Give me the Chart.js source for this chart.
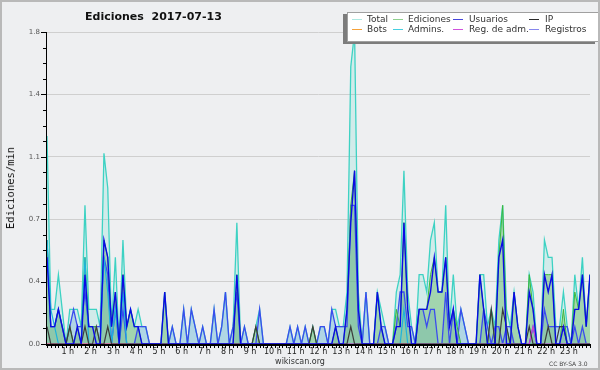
<!DOCTYPE html>
<html>
<head>
<meta charset="utf-8">
<script src="https://cdn.jsdelivr.net/npm/chart.js@4.4.0/dist/chart.umd.min.js"></script>
<style>
  body { margin: 0; }
  #wrap { position: relative; width: 600px; height: 370px; background: #eeeff1; overflow: hidden; font-family: "DejaVu Sans", sans-serif; }
  #frame { position: absolute; left: 0; top: 0; width: 600px; height: 370px; box-sizing: border-box; border: 2px solid #b9b9b9; pointer-events: none; }
  .txt { position: absolute; white-space: pre; }
  #legend { position: absolute; left: 347px; top: 12px; width: 250px; height: 28px; background: #fff; border: 1px solid #a0a0a0; box-shadow: -4px 2px 0 #7c7c7c; }
  .lg-line { position: absolute; width: 10px; height: 1px; }
  .lg-txt { position: absolute; font-size: 9px; color: #333; line-height: 10px; white-space: pre; }
</style>
</head>
<body>
<div id="wrap">
  <canvas id="chart" width="600" height="370"></canvas>
  <div class="txt" style="left:85px; top:10px; font-weight:bold; font-size:11px; color:#111;">Ediciones  2017-07-13</div>
  <div class="txt" style="left:10px; top:188px; transform:translate(-50%,-50%) rotate(-90deg); font-family:'DejaVu Sans Mono'; font-size:10.5px; color:#111;">Ediciones/min</div>
  <div class="txt" style="left:300px; top:361px; transform:translate(-50%,-50%); font-size:8px; color:#333;">wikiscan.org</div>
  <div class="txt" style="left:549px; top:363px; transform:translate(0,-50%); font-size:6px; color:#444;">CC BY-SA 3.0</div>
  <div id="legend"></div>
  <div id="frame"></div>
</div>
<script>
// edits per minute, one value per 10 minutes (6 per hour, 0h..23h50)
const total = [
  1.2,0.2,0.2,0.4,0.2,0.0,  0.2,0.2,0.2,0.1,0.8,0.2,  0.2,0.2,0.1,1.1,0.9,0.1,
  0.5,0.0,0.6,0.1,0.2,0.1,  0.2,0.1,0.1,0.0,0.0,0.0,  0.0,0.3,0.0,0.1,0.0,0.0,
  0.2,0.0,0.2,0.1,0.0,0.1,  0.0,0.0,0.2,0.0,0.1,0.3,  0.0,0.1,0.7,0.0,0.1,0.0,
  0.0,0.1,0.2,0.0,0.0,0.0,  0.0,0.0,0.0,0.0,0.1,0.0,  0.1,0.0,0.1,0.0,0.1,0.0,
  0.1,0.1,0.0,0.2,0.2,0.1,  0.1,0.3,1.6,1.8,0.3,0.0,  0.3,0.0,0.0,0.3,0.2,0.1,
  0.0,0.0,0.3,0.4,1.0,0.3,  0.1,0.0,0.4,0.4,0.3,0.6,  0.7,0.3,0.3,0.8,0.1,0.4,
  0.1,0.2,0.1,0.0,0.0,0.0,  0.4,0.4,0.1,0.2,0.1,0.6,  0.8,0.2,0.1,0.3,0.1,0.0,
  0.0,0.4,0.3,0.0,0.0,0.6,  0.5,0.5,0.1,0.1,0.3,0.1,  0.0,0.4,0.2,0.5,0.1,0.4
];
const ediciones = [
  0.6,0.1,0.1,0.2,0.1,0.0,  0.1,0.0,0.1,0.0,0.5,0.1,  0.1,0.1,0.0,0.6,0.5,0.1,
  0.3,0.0,0.4,0.1,0.2,0.1,  0.1,0.0,0.0,0.0,0.0,0.0,  0.0,0.3,0.0,0.0,0.0,0.0,
  0.0,0.0,0.0,0.0,0.0,0.0,  0.0,0.0,0.0,0.0,0.0,0.0,  0.0,0.0,0.4,0.0,0.0,0.0,
  0.0,0.1,0.0,0.0,0.0,0.0,  0.0,0.0,0.0,0.0,0.0,0.0,  0.0,0.0,0.0,0.0,0.1,0.0,
  0.0,0.0,0.0,0.0,0.1,0.0,  0.0,0.2,0.8,1.0,0.2,0.0,  0.0,0.0,0.0,0.3,0.1,0.0,
  0.0,0.0,0.2,0.1,0.7,0.2,  0.0,0.0,0.2,0.2,0.2,0.4,  0.5,0.3,0.3,0.5,0.1,0.2,
  0.1,0.0,0.0,0.0,0.0,0.0,  0.4,0.2,0.0,0.2,0.0,0.5,  0.8,0.1,0.0,0.3,0.1,0.0,
  0.0,0.4,0.2,0.0,0.0,0.4,  0.4,0.4,0.0,0.0,0.2,0.0,  0.0,0.3,0.2,0.4,0.1,0.4
];
const usuarios = [
  0.5,0.1,0.1,0.2,0.1,0.0,  0.0,0.0,0.1,0.0,0.4,0.1,  0.1,0.0,0.0,0.6,0.5,0.1,
  0.3,0.0,0.4,0.1,0.2,0.1,  0.1,0.0,0.0,0.0,0.0,0.0,  0.0,0.3,0.0,0.0,0.0,0.0,
  0.0,0.0,0.0,0.0,0.0,0.0,  0.0,0.0,0.0,0.0,0.0,0.0,  0.0,0.0,0.4,0.0,0.0,0.0,
  0.0,0.0,0.0,0.0,0.0,0.0,  0.0,0.0,0.0,0.0,0.0,0.0,  0.0,0.0,0.0,0.0,0.0,0.0,
  0.0,0.0,0.0,0.0,0.1,0.0,  0.0,0.2,0.7,1.0,0.2,0.0,  0.0,0.0,0.0,0.3,0.1,0.0,
  0.0,0.0,0.1,0.1,0.7,0.2,  0.0,0.0,0.2,0.2,0.2,0.3,  0.5,0.3,0.3,0.5,0.1,0.2,
  0.0,0.0,0.0,0.0,0.0,0.0,  0.4,0.2,0.0,0.0,0.0,0.5,  0.6,0.0,0.0,0.3,0.1,0.0,
  0.0,0.3,0.2,0.0,0.0,0.4,  0.3,0.4,0.0,0.0,0.1,0.0,  0.0,0.2,0.2,0.4,0.1,0.4
];
const ip = [
  0.1,0.0,0.0,0.0,0.0,0.0,  0.1,0.0,0.0,0.0,0.1,0.0,  0.0,0.1,0.0,0.0,0.1,0.0,
  0.0,0.0,0.0,0.0,0.0,0.0,  0.0,0.0,0.0,0.0,0.0,0.0,  0.0,0.0,0.0,0.0,0.0,0.0,
  0.0,0.0,0.0,0.0,0.0,0.0,  0.0,0.0,0.0,0.0,0.0,0.0,  0.0,0.0,0.0,0.0,0.0,0.0,
  0.0,0.1,0.0,0.0,0.0,0.0,  0.0,0.0,0.0,0.0,0.0,0.0,  0.0,0.0,0.0,0.0,0.1,0.0,
  0.0,0.0,0.0,0.0,0.0,0.0,  0.0,0.0,0.1,0.0,0.0,0.0,  0.0,0.0,0.0,0.0,0.0,0.0,
  0.0,0.0,0.0,0.0,0.0,0.0,  0.0,0.0,0.0,0.0,0.0,0.0,  0.0,0.0,0.0,0.0,0.0,0.0,
  0.0,0.0,0.0,0.0,0.0,0.0,  0.0,0.0,0.0,0.2,0.0,0.0,  0.2,0.1,0.0,0.0,0.0,0.0,
  0.0,0.1,0.0,0.0,0.0,0.0,  0.1,0.0,0.0,0.1,0.1,0.0,  0.0,0.0,0.0,0.0,0.0,0.0
];
const registros = [
  0.6,0.1,0.1,0.2,0.1,0.0,  0.1,0.2,0.1,0.1,0.3,0.1,  0.1,0.1,0.1,0.5,0.4,0.0,
  0.2,0.0,0.2,0.0,0.0,0.0,  0.1,0.1,0.1,0.0,0.0,0.0,  0.0,0.0,0.0,0.1,0.0,0.0,
  0.2,0.0,0.2,0.1,0.0,0.1,  0.0,0.0,0.2,0.0,0.1,0.3,  0.0,0.1,0.3,0.0,0.1,0.0,
  0.0,0.0,0.2,0.0,0.0,0.0,  0.0,0.0,0.0,0.0,0.1,0.0,  0.1,0.0,0.1,0.0,0.0,0.0,
  0.1,0.1,0.0,0.2,0.1,0.1,  0.1,0.1,0.8,0.8,0.1,0.0,  0.3,0.0,0.0,0.0,0.1,0.1,
  0.0,0.0,0.1,0.3,0.3,0.1,  0.1,0.0,0.2,0.2,0.1,0.2,  0.2,0.0,0.0,0.3,0.0,0.2,
  0.0,0.2,0.1,0.0,0.0,0.0,  0.0,0.2,0.1,0.0,0.1,0.1,  0.0,0.1,0.1,0.0,0.0,0.0,
  0.0,0.0,0.1,0.0,0.0,0.2,  0.1,0.1,0.1,0.1,0.1,0.1,  0.0,0.1,0.0,0.1,0.0,0.0
];
const admins = [
  0.6,0.2,0.1,0.0,0.0,0.0,  0.0,0.0,0.0,0.0,0.5,0.0,  0.0,0.0,0.0,0.5,0.3,0.0,
  0.2,0.0,0.3,0.0,0.0,0.0,  0.0,0.0,0.0,0.0,0.0,0.0,  0.0,0.0,0.0,0.0,0.0,0.0,
  0.0,0.0,0.0,0.0,0.0,0.0,  0.0,0.0,0.0,0.0,0.0,0.0,  0.0,0.0,0.0,0.0,0.0,0.0,
  0.0,0.0,0.0,0.0,0.0,0.0,  0.0,0.0,0.0,0.0,0.0,0.0,  0.0,0.0,0.0,0.0,0.0,0.0,
  0.0,0.0,0.0,0.0,0.0,0.0,  0.0,0.0,0.0,0.0,0.0,0.0,  0.0,0.0,0.0,0.0,0.0,0.0,
  0.0,0.0,0.0,0.0,0.2,0.0,  0.0,0.0,0.0,0.0,0.0,0.0,  0.0,0.0,0.0,0.0,0.0,0.0,
  0.0,0.0,0.0,0.0,0.0,0.0,  0.0,0.0,0.0,0.0,0.0,0.0,  0.0,0.0,0.0,0.0,0.0,0.0,
  0.0,0.0,0.0,0.0,0.0,0.0,  0.0,0.0,0.0,0.0,0.0,0.0,  0.0,0.0,0.0,0.0,0.0,0.0
];
const regAdm = [
  0,0,0,0,0,0, 0,0,0,0,0,0, 0,0,0,0,0,0, 0,0,0,0,0,0, 0,0,0,0,0,0, 0,0,0,0,0,0,
  0,0,0,0,0,0, 0,0,0,0,0,0, 0,0,0,0,0,0, 0,0,0,0,0,0, 0,0,0,0,0,0, 0,0,0,0,0,0,
  0,0,0,0,0,0, 0,0,0,0,0,0, 0,0,0,0,0,0, 0,0,0,0,0,0, 0,0,0,0,0,0, 0,0,0,0,0,0,
  0,0,0,0,0,0, 0,0,0,0,0,0, 0,0,0,0,0,0, 0,0,0.1,0,0,0, 0,0,0,0,0,0, 0,0,0,0,0,0
];
const bots = [
  0,0,0,0,0,0, 0,0,0,0,0,0, 0,0,0,0,0,0, 0,0,0,0,0,0, 0,0,0,0,0,0, 0,0,0,0,0,0,
  0,0,0,0,0,0, 0,0,0,0,0,0, 0,0,0,0,0,0, 0,0,0,0,0,0, 0,0,0,0,0,0, 0,0,0,0,0,0,
  0,0,0,0,0,0, 0,0,0,0,0,0, 0,0,0,0,0,0, 0,0,0,0,0,0, 0,0,0,0,0,0, 0,0,0,0,0,0,
  0,0,0,0,0,0, 0,0,0,0,0,0, 0,0,0,0,0,0, 0,0,0,0,0,0, 0,0,0,0,0,0, 0,0,0,0,0,0
];

const yTicks = [0.0, 0.36, 0.72, 1.08, 1.44, 1.8];

const legendItems = [
  { label: "Total", color: "#ade9e2" },
  { label: "Ediciones", color: "#8fd08f" },
  { label: "Usuarios", color: "#4646dc" },
  { label: "IP", color: "#2a2a2a" },
  { label: "Bots", color: "#f5a23a" },
  { label: "Admins.", color: "#46cfe0" },
  { label: "Reg. de adm.", color: "#d052dc" },
  { label: "Registros", color: "#8686ec" }
];

/* --------------- legend box --------------- */
const legend = document.getElementById("legend");
const colLine = [4, 45, 105, 181];
const colText = [19, 60, 121, 197];
legendItems.forEach((it, k) => {
  const col = k % 4, row = Math.floor(k / 4);
  const line = document.createElement("div");
  line.className = "lg-line";
  line.style.left = colLine[col] + "px";
  line.style.top = (6 + row * 10) + "px";
  line.style.background = it.color;
  legend.appendChild(line);
  const t = document.createElement("div");
  t.className = "lg-txt";
  t.style.left = colText[col] + "px";
  t.style.top = (1 + row * 10) + "px";
  t.textContent = it.label;
  legend.appendChild(t);
});

/* --------------- chart --------------- */
const pts = (arr) => arr.map((v, i) => ({ x: i, y: v }));

const axesPlugin = {
  id: "axesPlugin",
  afterDatasetsDraw(chart) {
    const { ctx, chartArea: a, scales: { x, y } } = chart;
    ctx.save();
    ctx.strokeStyle = "#000";
    ctx.lineWidth = 1;
    ctx.beginPath();
    for (let k = 0; k <= 20; k++) {
      const py = Math.round(y.getPixelForValue(k * 0.09)) + 0.5;
      const len = k % 4 === 0 ? 6 : 4;
      ctx.moveTo(a.left - len, py);
      ctx.lineTo(a.left, py);
    }
    for (let i = 0; i < total.length; i++) {
      const px = Math.round(x.getPixelForValue(i)) + 0.5;
      ctx.moveTo(px, a.bottom);
      ctx.lineTo(px, a.bottom + 4);
    }
    ctx.moveTo(a.left - 0.5, a.top);
    ctx.lineTo(a.left - 0.5, a.bottom + 1);
    ctx.stroke();
    ctx.lineWidth = 2;
    ctx.beginPath();
    ctx.moveTo(a.left - 1, a.bottom + 1);
    ctx.lineTo(a.right, a.bottom + 1);
    ctx.stroke();
    ctx.restore();
  }
};

const line = (label, data, color, width, order, fill) => ({
  label,
  data: pts(data),
  borderColor: color,
  borderWidth: width,
  backgroundColor: fill || "transparent",
  fill: fill ? "origin" : false,
  pointRadius: 0,
  tension: 0,
  order
});

new Chart(document.getElementById("chart"), {
  type: "line",
  data: {
    datasets: [
      line("Total", total, "#3dd2c3", 1.3, 10, "rgba(64,220,200,0.16)"),
      line("Registros", registros, "#3b4cee", 1.3, 9, "rgba(120,180,222,0.38)"),
      line("Ediciones", ediciones, "#3cb83c", 1, 8, "rgba(85,175,75,0.38)"),
      line("Bots", bots, "#ff9a2e", 1, 7),
      line("Admins.", admins, "#1fb3dc", 1.2, 6),
      line("Reg. de adm.", regAdm, "#d040d0", 1.2, 5),
      line("IP", ip, "#3c3c3c", 1.2, 4),
      line("Usuarios", usuarios, "#0a0ae6", 1.4, 1)
    ]
  },
  options: {
    responsive: false,
    animation: false,
    events: [],
    layout: { padding: { top: 32, right: 10, bottom: 0, left: 0 } },
    plugins: {
      legend: { display: false },
      tooltip: { enabled: false },
      filler: { drawTime: "beforeDatasetsDraw" }
    },
    scales: {
      x: {
        type: "linear",
        min: 0,
        max: 143,
        afterFit: (s) => { s.height = 26; },
        grid: { display: false, drawTicks: false, tickLength: 0 },
        border: { display: false },
        ticks: {
          stepSize: 6,
          includeBounds: false,
          autoSkip: false,
          maxRotation: 0,
          padding: 3,
          labelOffset: -2,
          color: "#222",
          font: { family: "DejaVu Sans", size: 8 },
          callback: (v) => (v % 6 === 0 && v > 0 ? v / 6 + " h" : "")
        }
      },
      y: {
        min: 0,
        max: 1.8,
        afterFit: (s) => { s.width = 47; },
        border: { display: false },
        grid: {
          drawTicks: false,
          color: (c) => (c.tick && yTicks.slice(1).some((t) => Math.abs(t - c.tick.value) < 1e-6) ? "#cfcfcf" : "rgba(0,0,0,0)")
        },
        ticks: {
          stepSize: 0.09,
          autoSkip: false,
          padding: 7,
          color: "#555",
          font: { family: "DejaVu Sans", size: 7 },
          callback: (v) => (yTicks.some((t) => Math.abs(t - v) < 1e-6) ? v.toFixed(1) : "")
        }
      }
    }
  },
  plugins: [axesPlugin]
});
</script>
</body>
</html>
